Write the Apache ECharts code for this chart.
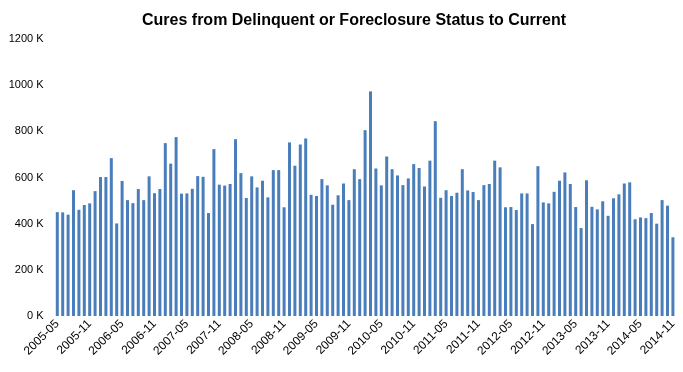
<!DOCTYPE html>
<html>
<head>
<meta charset="utf-8">
<script src="https://cdn.jsdelivr.net/npm/echarts@6/dist/echarts.min.js"></script>
<style>html,body{margin:0;padding:0;background:#fff}#c{width:683px;height:372px}</style>
</head>
<body>
<div id="c"></div>
<script>
var titleText = 'Cures from Delinquent or Foreclosure Status to Current';
var startYear = 2005, startMonth = 5, monthCount = 115;
var categories = [];
for (var i = 0; i < monthCount; i++) {
  var m = startMonth - 1 + i;
  var y = startYear + Math.floor(m / 12);
  var mm = (m % 12) + 1;
  categories.push(y + '-' + (mm < 10 ? '0' + mm : mm));
}
// values in thousands
var cures = [
  450, 449, 439, 545, 460, 481, 488, 541, 602, 602, 684, 401, 585, 502, 489, 550, 502, 605, 532, 550, 749, 660, 775, 530, 531, 551, 606,
  603, 446, 723, 569, 565, 572, 766, 619, 511, 605, 557, 586, 514, 632, 632, 471, 752, 651, 743, 769, 525, 520, 593, 566, 482, 523, 574, 502,
  636, 593, 805, 973, 639, 566, 691, 636, 609, 567, 596, 658, 641, 561, 673, 844, 512, 545, 520, 534, 636, 544, 537, 502, 567, 572, 673, 644, 471,
  472, 459, 531, 531, 398, 649, 492, 488, 538, 586, 622, 572, 472, 381, 588, 473, 462, 497, 434, 510, 527, 574, 579, 419, 427, 424, 446, 400, 502, 478, 341
];
var yTicks = [0, 200, 400, 600, 800, 1000, 1200];

var chart = echarts.init(document.getElementById('c'), null, {renderer: 'canvas'});
chart.setOption({
  animation: false,
  title: {
    text: titleText, left: 137, top: 8,
    textStyle: {fontFamily: 'Liberation Sans, sans-serif', fontWeight: 'bold', fontSize: 16, color: '#000'}
  },
  grid: {left: 54.6, right: 7.4, top: 39, bottom: 56, containLabel: false},
  xAxis: {
    type: 'category', data: categories,
    axisLine: {show: false}, axisTick: {show: false},
    axisLabel: {interval: 5, rotate: 45, fontSize: 12, color: '#000', margin: 6,
      fontFamily: 'Liberation Sans, sans-serif'}
  },
  yAxis: {
    type: 'value', min: yTicks[0], max: yTicks[yTicks.length - 1], interval: 200,
    splitLine: {show: false}, axisLine: {show: false}, axisTick: {show: false},
    axisLabel: {formatter: function (v) { return v + ' K'; }, fontSize: 11, color: '#000', margin: 11,
      fontFamily: 'Liberation Sans, sans-serif'}
  },
  series: [{
    type: 'bar', data: cures, barWidth: 3,
    itemStyle: {color: '#4A7EBB'}
  }]
});
</script>
</body>
</html>
